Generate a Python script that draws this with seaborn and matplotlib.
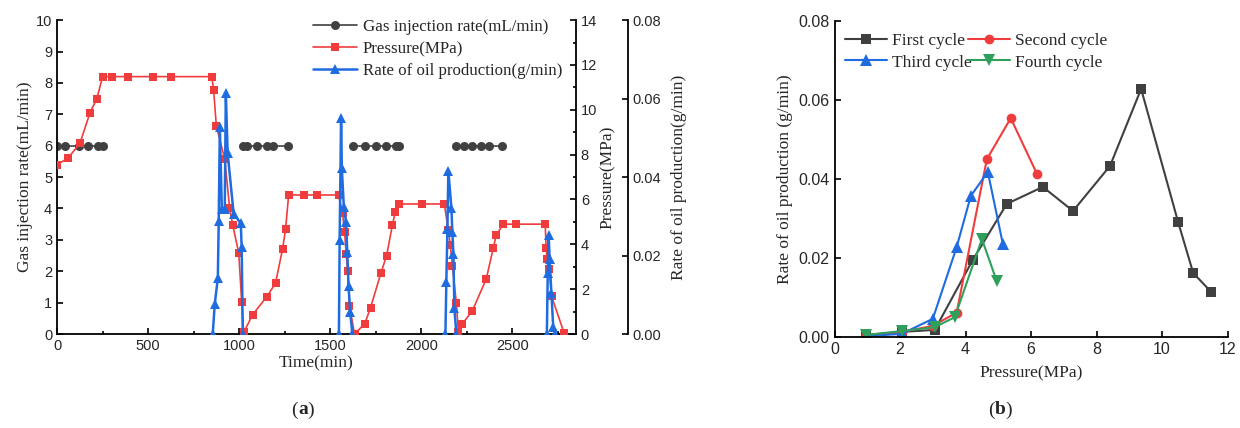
import matplotlib
matplotlib.use("Agg")
import matplotlib.pyplot as plt
from matplotlib.ticker import MultipleLocator
import seaborn as sns
import pandas as pd

# ---------------- panel (a) data ----------------
# gas injection rate (mL/min), four injection periods
gas_time = [0, 45, 120, 170, 225, 250,
            1020, 1045, 1100, 1155, 1185, 1270,
            1623, 1689, 1754, 1809, 1864, 1880,
            2193, 2237, 2281, 2330, 2374, 2445]
gas_rate = [6] * 24
gas_period = [1] * 6 + [2] * 6 + [3] * 6 + [4] * 6

# pressure (MPa)
pres_time = [0, 60, 126, 181, 219, 250, 300, 390, 528, 625, 850, 860, 875, 921, 948, 965, 998, 1014, 1025,
             1075, 1151, 1200, 1239, 1255, 1272, 1354, 1425, 1546, 1568, 1579, 1588, 1596, 1606, 1634,
             1690, 1722, 1779, 1810, 1842, 1858, 1880, 2007, 2127, 2149, 2160, 2171, 2193, 2204,
             2226, 2281, 2357, 2396, 2412, 2451, 2522, 2681, 2686, 2692, 2703, 2716, 2785]
pres_val = [7.56, 7.84, 8.51, 9.87, 10.5, 11.48, 11.48, 11.48, 11.48, 11.48, 11.48, 10.88, 9.27, 7.80, 5.60, 4.86, 3.61, 1.43, 0.07,
            0.87, 1.65, 2.27, 3.81, 4.68, 6.2, 6.2, 6.2, 6.2, 5.39, 4.55, 3.57, 2.8, 1.26, 0.0,
            0.46, 1.18, 2.73, 3.5, 4.87, 5.46, 5.8, 5.8, 5.8, 4.62, 3.96, 3.04, 1.4, 0.08,
            0.45, 1.04, 2.45, 3.84, 4.41, 4.9, 4.9, 4.9, 3.84, 3.36, 2.9, 1.68, 0.04]

# rate of oil production (g/min), four production periods
oil_time = [855, 866, 883, 888, 894, 905, 921, 927, 937, 970, 1009, 1014, 1020,
            1548, 1552, 1560, 1564, 1575, 1587, 1594, 1601, 1610, 1622,
            2133, 2138, 2144, 2149, 2166, 2171, 2177, 2182, 2193,
            2690, 2695, 2700, 2705, 2715, 2725, 2735]
oil_rate = [0, 0.0076, 0.0142, 0.0288, 0.0528, 0.0318, 0.0318, 0.0614, 0.0461, 0.0306, 0.0282, 0.0221, 0,
            0, 0.024, 0.055, 0.0422, 0.0324, 0.0286, 0.0208, 0.0122, 0.0056, 0,
            0, 0.0133, 0.0268, 0.0416, 0.032, 0.026, 0.0204, 0.0066, 0,
            0, 0.0156, 0.0252, 0.0192, 0.0104, 0.0018, 0]
oil_period = [1] * 13 + [2] * 10 + [3] * 9 + [4] * 7

# ---------------- panel (b) data ----------------
first_p = [0.95, 2.05, 3.06, 4.22, 5.26, 6.36, 7.28, 8.41, 9.36, 10.49, 10.95, 11.5]
first_r = [0.0005, 0.0013, 0.0018, 0.0195, 0.0337, 0.038, 0.0319, 0.0433, 0.0628, 0.0291, 0.0162, 0.0114]
second_p = [0.95, 2.05, 3.0, 3.73, 4.65, 5.38, 6.18]
second_r = [0.0003, 0.0013, 0.0028, 0.0062, 0.045, 0.0554, 0.0413]
third_p = [0.95, 2.05, 3.0, 3.73, 4.16, 4.68, 5.14]
third_r = [0.0002, 0.0008, 0.0046, 0.0228, 0.0357, 0.0418, 0.0235]
fourth_p = [0.95, 2.05, 3.06, 3.67, 4.5, 4.95]
fourth_r = [0.0005, 0.0015, 0.0025, 0.005, 0.0248, 0.0142]

BLACK = "#404040"
RED = "#f03c3c"
BLUE = "#1f6be0"
GREEN = "#2ea05c"

sns.set_theme(style="white")
plt.rcParams["font.family"] = ["Liberation Sans", "DejaVu Sans"]
plt.rcParams["xtick.direction"] = "in"
plt.rcParams["ytick.direction"] = "in"
SERIF = ["Liberation Serif", "DejaVu Serif"]

fig = plt.figure(figsize=(12.4, 4.28), dpi=100)
ax = fig.add_axes([0.046, 0.2196, 0.4185, 0.7334])
ax2 = ax.twinx()
ax3 = ax.twinx()

gas_df = pd.DataFrame({"t": gas_time, "v": gas_rate, "p": gas_period})
pres_df = pd.DataFrame({"t": pres_time, "v": pres_val})
oil_df = pd.DataFrame({"t": oil_time, "v": oil_rate, "p": oil_period})

sns.lineplot(data=gas_df, x="t", y="v", units="p", estimator=None, sort=False,
             color=BLACK, marker="o", markersize=6.5, markeredgewidth=0, lw=1.2, ax=ax)
sns.lineplot(data=pres_df, x="t", y="v", estimator=None, sort=False,
             color=RED, marker="s", markersize=6, markeredgewidth=0, lw=1.2, ax=ax2)
sns.lineplot(data=oil_df, x="t", y="v", units="p", estimator=None, sort=False,
             color=BLUE, marker="^", markersize=7, markeredgewidth=0, lw=1.8, ax=ax3)

ax.set_xlim(0, 2850)
ax.set_ylim(0, 10)
ax2.set_ylim(0, 14)
ax3.set_ylim(0, 0.08)
ax.xaxis.set_major_locator(MultipleLocator(500))
ax.xaxis.set_minor_locator(MultipleLocator(250))
ax.yaxis.set_major_locator(MultipleLocator(1))
ax2.yaxis.set_major_locator(MultipleLocator(2))
ax2.yaxis.set_minor_locator(MultipleLocator(1))
ax3.yaxis.set_major_locator(MultipleLocator(0.02))
ax3.yaxis.set_major_formatter(matplotlib.ticker.FormatStrFormatter("%.2f"))

for a in (ax, ax2, ax3):
    for s in a.spines.values():
        s.set_visible(False)
    a.tick_params(which="both", labelsize=10.5, color="black", width=1.2)
    a.tick_params(which="major", length=4)
    a.tick_params(which="minor", length=2.5)
ax.spines["left"].set_visible(True)
ax.spines["bottom"].set_visible(True)
ax2.spines["right"].set_visible(True)
ax3.spines["right"].set_visible(True)
ax3.spines["right"].set_position(("axes", 1.1))
for s in (ax.spines["left"], ax.spines["bottom"], ax2.spines["right"], ax3.spines["right"]):
    s.set_color("black")
    s.set_linewidth(1.3)
ax.tick_params(axis="x", which="both", bottom=True)
ax.tick_params(axis="y", which="both", left=True)
ax2.tick_params(axis="y", which="both", right=True)
ax3.tick_params(axis="y", which="both", right=True)

ax.set_xlabel("Time(min)", family=SERIF, fontsize=12.5, labelpad=2)
ax.set_ylabel("Gas injection rate(mL/min)", family=SERIF, fontsize=12.5, labelpad=2)
ax2.set_ylabel("Pressure(MPa)", family=SERIF, fontsize=12.5, labelpad=2)
ax3.set_ylabel("Rate of oil production(g/min)", family=SERIF, fontsize=12.5, labelpad=7)

handles = [ax.lines[0], ax2.lines[0], ax3.lines[0]]
labels = ["Gas injection rate(mL/min)", "Pressure(MPa)", "Rate of oil production(g/min)"]
ax3.legend(handles, labels, loc="upper left", bbox_to_anchor=(313 / 1240, 1 - 19 / 428),
           bbox_transform=fig.transFigure, frameon=False, borderpad=0, borderaxespad=0,
           handlelength=2.6, handletextpad=0.35, labelspacing=0.35,
           prop={"family": SERIF, "size": 12.2})

# ---------------- panel (b) ----------------
bx = fig.add_axes([0.673, 0.2126, 0.317, 0.7384])
series = [("First cycle", first_p, first_r, BLACK, "s", 7),
          ("Second cycle", second_p, second_r, RED, "o", 7),
          ("Third cycle", third_p, third_r, BLUE, "^", 8),
          ("Fourth cycle", fourth_p, fourth_r, GREEN, "v", 8)]
for name, px, ry, col, mk, ms in series:
    sns.lineplot(x=px, y=ry, sort=False, estimator=None, color=col, marker=mk,
                 markersize=ms, markeredgewidth=0, lw=1.5, label=name, ax=bx)

bx.set_xlim(0, 12)
bx.set_ylim(0, 0.08)
bx.xaxis.set_major_locator(MultipleLocator(2))
bx.yaxis.set_major_locator(MultipleLocator(0.02))
bx.yaxis.set_major_formatter(matplotlib.ticker.FormatStrFormatter("%.2f"))
bx.spines["top"].set_visible(False)
bx.spines["right"].set_visible(False)
for s in (bx.spines["left"], bx.spines["bottom"]):
    s.set_color("black")
    s.set_linewidth(1.3)
bx.tick_params(labelsize=11.5, color="black", width=1.2, length=4, bottom=True, left=True)
bx.set_xlabel("Pressure(MPa)", family=SERIF, fontsize=12.5, labelpad=6)
bx.set_ylabel("Rate of oil production (g/min)", family=SERIF, fontsize=12.5, labelpad=4)

bh, bl = bx.get_legend_handles_labels()
order = [0, 2, 1, 3]
bx.legend([bh[i] for i in order], [bl[i] for i in order], ncol=2, loc="upper left",
          bbox_to_anchor=(845 / 1240, 1 - 33 / 428), bbox_transform=fig.transFigure,
          frameon=False, borderpad=0, borderaxespad=0, handlelength=2.4,
          handletextpad=0.3, labelspacing=0.3, columnspacing=-0.2,
          prop={"family": SERIF, "size": 12.5})

# panel letters
fig.text(298 / 1240, 1 - 410 / 428, "(", family=SERIF, fontsize=14, ha="right", va="center")
fig.text(298 / 1240, 1 - 410 / 428, "a", family=SERIF, fontsize=14, weight="bold", ha="left", va="center")
fig.text(307 / 1240, 1 - 410 / 428, ")", family=SERIF, fontsize=14, ha="left", va="center")
fig.text(995 / 1240, 1 - 410 / 428, "(", family=SERIF, fontsize=14, ha="right", va="center")
fig.text(995 / 1240, 1 - 410 / 428, "b", family=SERIF, fontsize=14, weight="bold", ha="left", va="center")
fig.text(1005 / 1240, 1 - 410 / 428, ")", family=SERIF, fontsize=14, ha="left", va="center")

fig.savefig("out.png", dpi=100, facecolor="white")
